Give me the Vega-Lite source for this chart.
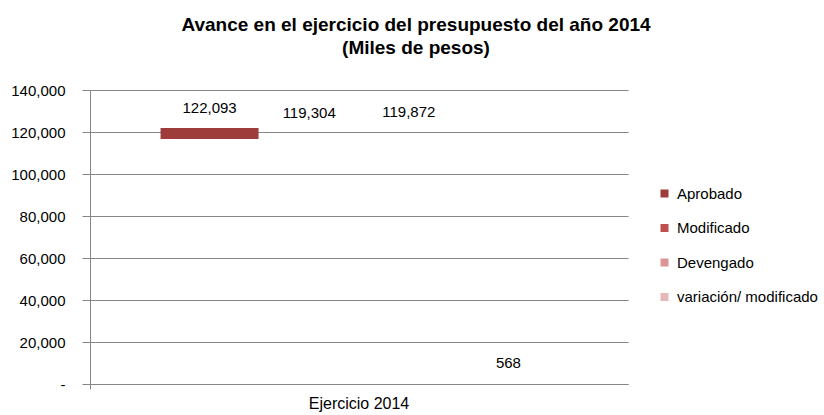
{
  "$schema": "https://vega.github.io/schema/vega-lite/v6.json",
  "width": 538,
  "height": 294,
  "autosize": {"type": "none"},
  "padding": {"left": 90, "top": 90, "right": 196, "bottom": 31},
  "background": "white",
  "config": {"view": {"stroke": null}, "font": "Liberation Sans"},
  "title": {
    "text": ["Avance en el ejercicio del presupuesto del año 2014", "(Miles de pesos)"],
    "font": "Liberation Sans",
    "fontSize": 19,
    "fontWeight": "bold",
    "color": "black",
    "lineHeight": 23,
    "anchor": "middle",
    "frame": "group",
    "dx": 57,
    "offset": 25
  },
  "data": {
    "values": [
      {"categoria": "Ejercicio 2014", "serie": "Aprobado", "valor": 122093},
      {"categoria": "Ejercicio 2014", "serie": "Modificado", "valor": 119304},
      {"categoria": "Ejercicio 2014", "serie": "Devengado", "valor": 119872},
      {"categoria": "Ejercicio 2014", "serie": "variación/ modificado", "valor": 568}
    ]
  },
  "encoding": {
    "x": {
      "field": "categoria",
      "type": "nominal",
      "scale": {"paddingInner": 0, "paddingOuter": 0},
      "axis": {
        "title": null,
        "labelAngle": 0,
        "labelFontSize": 16,
        "labelColor": "black",
        "bandPosition": 0,
        "tickSize": 5,
        "tickColor": "#868686",
        "domainColor": "#868686",
        "labelPadding": 6
      }
    },
    "xOffset": {
      "field": "serie",
      "type": "nominal",
      "sort": ["Aprobado", "Modificado", "Devengado", "variación/ modificado"],
      "scale": {"paddingInner": 0, "paddingOuter": 0.7}
    },
    "y": {
      "field": "valor",
      "type": "quantitative",
      "scale": {"domain": [0, 140000]},
      "axis": {
        "title": null,
        "values": [0, 20000, 40000, 60000, 80000, 100000, 120000, 140000],
        "labelExpr": "datum.value == 0 ? '-' : format(datum.value, ',')",
        "labelFontSize": 15,
        "labelColor": "black",
        "labelPadding": 17,
        "tickSize": 8,
        "tickColor": "#868686",
        "domainColor": "#868686",
        "gridColor": "#868686",
        "grid": true
      }
    }
  },
  "layer": [
    {
      "transform": [{"filter": "datum.serie == 'Aprobado'"}],
      "mark": {"type": "tick", "thickness": 11, "size": 98, "yOffset": 6, "opacity": 1},
      "encoding": {
        "color": {
          "field": "serie",
          "type": "nominal",
          "scale": {
            "domain": ["Aprobado", "Modificado", "Devengado", "variación/ modificado"],
            "range": ["#9E3B3B", "#C0504D", "#D99694", "#E6B9B8"]
          },
          "legend": {
            "title": null,
            "orient": "none",
            "legendX": 567,
            "legendY": 96,
            "symbolType": "square",
            "symbolSize": 64,
            "symbolStrokeWidth": 0,
            "symbolOpacity": 1,
            "labelFontSize": 15,
            "labelColor": "black",
            "rowPadding": 18.5,
            "labelOffset": 5,
            "labelLimit": 300
          }
        }
      }
    },
    {
      "mark": {"type": "text", "dy": -20, "fontSize": 15, "color": "black"},
      "encoding": {"text": {"field": "valor", "type": "quantitative", "format": ","}}
    }
  ]
}
